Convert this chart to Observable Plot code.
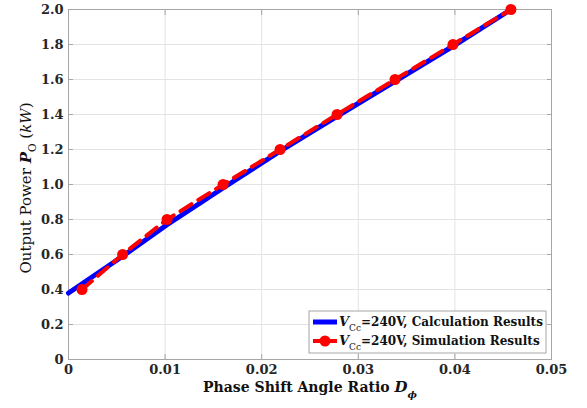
<!DOCTYPE html>
<html><head><meta charset="utf-8">
<script src="https://cdn.jsdelivr.net/npm/d3@7"></script>
<script src="https://cdn.jsdelivr.net/npm/@observablehq/plot@0.6"></script>
<style>
html,body{margin:0;padding:0;background:#fff;}
#chart{position:relative;width:587px;height:408px;}
</style></head><body><div id="chart"></div>
<script>
// Calculation results (blue solid line)
const calcD = [0, 0.0056, 0.0102, 0.0160, 0.0219, 0.0278, 0.0338, 0.0398, 0.0458];
const calcP = [0.38, 0.59, 0.77, 0.98, 1.19, 1.39, 1.59, 1.79, 2.0];
// Simulation results (red dashed line with markers)
const simD = [0.0014, 0.0056, 0.0102, 0.0160, 0.0219, 0.0278, 0.0338, 0.0398, 0.0458];
const simP = [0.4, 0.6, 0.8, 1.0, 1.2, 1.4, 1.6, 1.8, 2.0];
// Ticks
const xTicks = [0, 0.01, 0.02, 0.03, 0.04, 0.05];
const xTickLabels = ["0", "0.01", "0.02", "0.03", "0.04", "0.05"];
const yTicks = [0, 0.2, 0.4, 0.6, 0.8, 1.0, 1.2, 1.4, 1.6, 1.8, 2.0];
const yTickLabels = ["0", "0.2", "0.4", "0.6", "0.8", "1.0", "1.2", "1.4", "1.6", "1.8", "2.0"];
// Legend
const legendPrefix = "=240V, ";
const legendLabels = ["Calculation Results", "Simulation Results"];

const calc = calcD.map((d, i) => ({d, p: calcP[i]}));
const sim = simD.map((d, i) => ({d, p: simP[i]}));
const xfmt = v => xTickLabels[xTicks.findIndex(t => Math.abs(t - v) < 1e-9)];
const yfmt = v => yTickLabels[yTicks.findIndex(t => Math.abs(t - v) < 1e-9)];

const FONT = "'DejaVu Serif', serif";
const chart = Plot.plot({
  width: 587, height: 408,
  marginLeft: 68, marginRight: 36, marginTop: 9, marginBottom: 49,
  style: {fontFamily: FONT, fontSize: "13px", fontWeight: "bold", background: "#fff", color: "#262626"},
  x: {domain: [0, 0.05]},
  y: {domain: [0, 2]},
  marks: [
    Plot.gridX(xTicks, {stroke: "#e3e3e3", strokeOpacity: 1}),
    Plot.gridY(yTicks, {stroke: "#e3e3e3", strokeOpacity: 1}),
    Plot.frame({stroke: "#a6a6a6"}),
    Plot.axisX(xTicks, {anchor: "bottom", tickSize: -5, tickPadding: 10, tickFormat: xfmt, stroke: "#a6a6a6", fill: "#262626", label: null}),
    Plot.axisX(xTicks, {anchor: "top", tickSize: -5, tickFormat: () => "", stroke: "#a6a6a6", label: null}),
    Plot.axisY(yTicks, {anchor: "left", tickSize: -5, tickPadding: 10, tickFormat: yfmt, stroke: "#a6a6a6", fill: "#262626", label: null}),
    Plot.axisY(yTicks, {anchor: "right", tickSize: -5, tickFormat: () => "", stroke: "#a6a6a6", label: null}),
    Plot.line(calc, {x: "d", y: "p", stroke: "#0000ff", strokeWidth: 5}),
    Plot.line(sim, {x: "d", y: "p", stroke: "#ff0000", strokeWidth: 4, strokeDasharray: "13,8"}),
    Plot.dot(sim, {x: "d", y: "p", r: 5.5, fill: "#ff0000", stroke: "none"})
  ]
});
document.getElementById("chart").appendChild(chart);

const svg = d3.select(chart);
// X label
const xl = svg.append("text").attr("x", 310).attr("y", 392).attr("text-anchor", "middle")
  .style("font-family", FONT).style("font-size", "14px").style("font-weight", "bold").attr("fill", "#111");
xl.append("tspan").text("Phase Shift Angle Ratio ");
xl.append("tspan").style("font-style", "italic").style("font-size", "15px").text("D");
xl.append("tspan").style("font-style", "italic").style("font-size", "10px").attr("dy", 6).text("ϕ");
// Y label
const yl = svg.append("text").attr("transform", "translate(31,188) rotate(-90)").attr("text-anchor", "middle")
  .style("font-family", FONT).style("font-size", "15px").style("font-weight", "normal").attr("fill", "#111");
yl.append("tspan").text("Output Power ");
yl.append("tspan").style("font-style", "italic").style("font-weight", "bold").text("P");
yl.append("tspan").style("font-size", "10.5px").attr("dy", 5).text("O");
yl.append("tspan").attr("dy", -5).text(" (");
yl.append("tspan").style("font-style", "italic").text("kW");
yl.append("tspan").text(")");

// Legend
const lg = svg.append("g");
lg.append("rect").attr("x", 309).attr("y", 311).attr("width", 237).attr("height", 42)
  .attr("fill", "#fff").attr("stroke", "#a6a6a6");
const rows = [322, 341];
lg.append("line").attr("x1", 313).attr("x2", 337).attr("y1", rows[0]).attr("y2", rows[0])
  .attr("stroke", "#0000ff").attr("stroke-width", 5);
lg.append("line").attr("x1", 313).attr("x2", 337).attr("y1", rows[1]).attr("y2", rows[1])
  .attr("stroke", "#ff0000").attr("stroke-width", 4);
lg.append("circle").attr("cx", 325).attr("cy", rows[1]).attr("r", 5.5).attr("fill", "#ff0000");
legendLabels.forEach((lab, i) => {
  const t = lg.append("text").attr("x", 339).attr("y", rows[i] + 4).attr("text-anchor", "start")
    .style("font-family", FONT).style("font-size", "12px").style("font-weight", "bold").attr("fill", "#111");
  t.append("tspan").style("font-style", "italic").style("font-size", "13px").text("V");
  t.append("tspan").style("font-size", "9px").style("font-weight", "normal").attr("dy", 5).text("Cc");
  t.append("tspan").attr("dy", -5).text(legendPrefix + lab);
});
</script></body></html>
